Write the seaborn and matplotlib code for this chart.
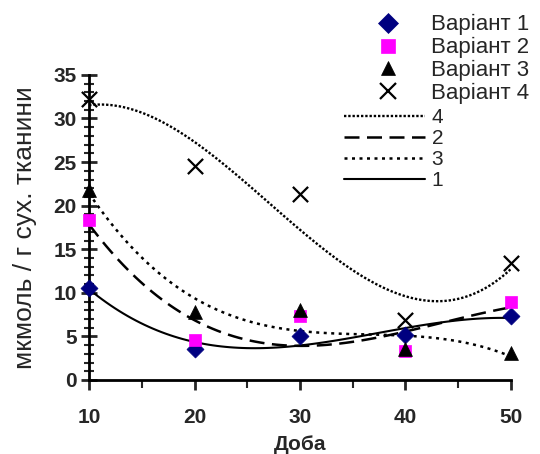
import numpy as np
import pandas as pd
import matplotlib
matplotlib.use("Agg")
import matplotlib.pyplot as plt
from matplotlib.lines import Line2D
from matplotlib.ticker import MultipleLocator
import seaborn as sns

# ======== DATA ========
days = [10, 20, 30, 40, 50]
var1 = [10.6, 3.6, 5.1, 5.2, 7.3]
var2 = [18.4, 4.6, 7.3, 3.3, 8.9]
var3 = [21.8, 7.8, 8.0, 3.5, 3.1]
var4 = [32.2, 24.6, 21.3, 6.9, 13.4]

labels = ["Варіант 1", "Варіант 2", "Варіант 3", "Варіант 4"]
trend_labels = ["1", "2", "3", "4"]

# ======== STYLE ========
sns.set_style("ticks")
plt.rcParams["font.family"] = ["Liberation Sans", "DejaVu Sans"]

fig = plt.figure(figsize=(5.4, 4.54), dpi=100)
ax = fig.add_axes([0.165, 0.163, 0.781, 0.672])

series = [var1, var2, var3, var4]
markers = ["D", "s", "^", "x"]
colors = ["#000080", "#FF00FF", "black", "black"]
sizes = [75, 80, 100, 120]
styles = [
    dict(ls="-", lw=1.5),
    dict(ls=(0, (6, 3)), lw=1.8),
    dict(ls=(0, (1.2, 1.8)), lw=1.8),
    dict(ls=(0, (1, 0.8)), lw=1.7),
]

# polynomial trend lines (order 3), like the spreadsheet trendlines
for vals, st in zip(series, styles):
    sns.regplot(x=days, y=vals, order=3, ci=None, scatter=False, truncate=True,
                color="black", line_kws=st, ax=ax)

for vals, m, c, s in zip(series, markers, colors, sizes):
    sns.scatterplot(x=days, y=vals, marker=m, color=c, s=s, ax=ax,
                    edgecolor=c if m != "x" else None, linewidth=1.6 if m == "x" else 0.5,
                    clip_on=False, zorder=5)

# ======== AXES ========
ax.set_xlim(10, 50)
ax.set_ylim(0, 35)
ax.xaxis.set_major_locator(MultipleLocator(10))
ax.xaxis.set_minor_locator(MultipleLocator(5))
ax.yaxis.set_major_locator(MultipleLocator(5))
ax.yaxis.set_minor_locator(MultipleLocator(1))
sns.despine(ax=ax)
for sp in ["left", "bottom"]:
    ax.spines[sp].set_linewidth(2)
    ax.spines[sp].set_color("black")
ax.tick_params(axis="y", which="major", direction="inout", length=12, width=2,
               pad=3, labelsize=15)
ax.tick_params(axis="y", which="minor", direction="inout", length=7, width=1.5)
ax.tick_params(axis="x", which="major", direction="out", length=7, width=2,
               pad=13, labelsize=15)
ax.tick_params(axis="x", which="minor", direction="out", length=6, width=1.5)
for t in ax.get_xticklabels() + ax.get_yticklabels():
    t.set_fontweight("bold")

ax.set_xlabel("Доба", fontsize=15, fontweight="bold", labelpad=6)
ax.set_ylabel("мкмоль / г сух. тканини", fontsize=19, labelpad=12)

# ======== LEGENDS ========
mk_handles = [Line2D([], [], marker=m, color=c, ls="none", markersize=10 if m != "x" else 11,
                     markeredgewidth=1.6 if m == "x" else 0.5)
              for m, c in zip(markers, colors)]
fig.legend(mk_handles, labels, loc="upper left", bbox_to_anchor=(0.682, 0.988),
           frameon=False, fontsize=16, handlelength=1.0, handletextpad=1.4,
           labelspacing=0.08, borderaxespad=0)

order = [3, 1, 2, 0]
ln_handles = [Line2D([], [], color="black", **styles[i]) for i in order]
fig.legend(ln_handles, [trend_labels[i] for i in order], loc="upper left",
           bbox_to_anchor=(0.622, 0.78), frameon=False, fontsize=15,
           handlelength=3.9, handletextpad=0.3, labelspacing=0.1, borderaxespad=0)

fig.savefig("out.png", dpi=100)
